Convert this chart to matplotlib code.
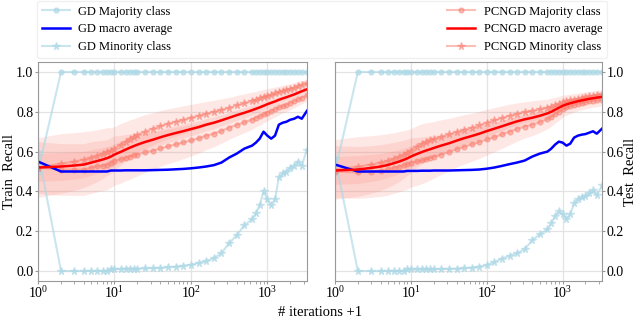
import numpy as np
import matplotlib.pyplot as plt

plt.rcParams['font.family'] = 'serif'
plt.rcParams['font.serif'] = ['Liberation Serif', 'DejaVu Serif']
plt.rcParams['mathtext.fontset'] = 'stix'

# iterations + 1
iters = [1, 2, 3, 4, 5, 6, 7, 8, 9, 10, 12, 14, 16, 18, 20, 25, 32, 40, 50, 63, 80, 100,
         126, 158, 200, 251, 316, 398, 501, 631, 708, 794, 891, 1000, 1122, 1259, 1413,
         1585, 1778, 1995, 2239, 2512, 2818, 3300]

# ---- train ----
gd_maj_train = [0.50, 1.0, 1.0, 1.0, 1.0, 1.0, 1.0, 1.0, 1.0, 1.0, 1.0, 1.0, 1.0, 1.0, 1.0,
                1.0, 1.0, 1.0, 1.0, 1.0, 1.0, 1.0, 1.0, 1.0, 1.0, 1.0, 1.0, 1.0, 1.0, 1.0,
                1.0, 1.0, 1.0, 1.0, 1.0, 1.0, 1.0, 1.0, 1.0, 1.0, 1.0, 1.0, 1.0, 1.0]
gd_min_train = [0.60, 0.0, 0.0, 0.0, 0.0, 0.0, 0.0, 0.0, 0.01, 0.01, 0.01, 0.012, 0.012,
                0.012, 0.012, 0.013, 0.015, 0.016, 0.018, 0.022, 0.026, 0.032, 0.04, 0.05,
                0.065, 0.09, 0.14, 0.18, 0.23, 0.26, 0.29, 0.33, 0.40, 0.36, 0.33, 0.36,
                0.47, 0.49, 0.50, 0.52, 0.53, 0.55, 0.53, 0.61]
gd_avg_train = [0.55, 0.50, 0.50, 0.50, 0.50, 0.50, 0.50, 0.50, 0.505, 0.505, 0.505, 0.506,
                0.506, 0.506, 0.506, 0.506, 0.507, 0.508, 0.509, 0.511, 0.513, 0.516, 0.52,
                0.525, 0.532, 0.545, 0.57, 0.59, 0.615, 0.63, 0.645, 0.665, 0.70, 0.68,
                0.665, 0.68, 0.735, 0.745, 0.75, 0.76, 0.765, 0.775, 0.765, 0.805]
pc_avg_train = [0.52, 0.525, 0.53, 0.535, 0.545, 0.553, 0.56, 0.567, 0.575, 0.585, 0.598,
                0.61, 0.62, 0.628, 0.635, 0.648, 0.66, 0.672, 0.683, 0.693, 0.703, 0.713,
                0.723, 0.735, 0.745, 0.757, 0.77, 0.783, 0.795, 0.808, 0.815, 0.822, 0.83,
                0.838, 0.845, 0.852, 0.86, 0.867, 0.873, 0.88, 0.887, 0.895, 0.903, 0.913]
pc_min_train = [0.52, 0.54, 0.55, 0.56, 0.57, 0.58, 0.59, 0.60, 0.605, 0.615, 0.635, 0.65,
                0.665, 0.675, 0.685, 0.70, 0.715, 0.728, 0.74, 0.75, 0.76, 0.77, 0.78, 0.79,
                0.80, 0.81, 0.82, 0.832, 0.843, 0.855, 0.86, 0.867, 0.873, 0.88, 0.886,
                0.892, 0.898, 0.904, 0.91, 0.915, 0.921, 0.928, 0.935, 0.943]
pc_maj_train = [0.52, 0.51, 0.51, 0.51, 0.52, 0.526, 0.53, 0.534, 0.545, 0.555, 0.561, 0.57,
                0.575, 0.581, 0.585, 0.596, 0.605, 0.616, 0.626, 0.636, 0.646, 0.656, 0.666,
                0.68, 0.69, 0.704, 0.72, 0.734, 0.747, 0.761, 0.77, 0.777, 0.787, 0.796,
                0.804, 0.812, 0.822, 0.83, 0.836, 0.845, 0.853, 0.862, 0.871, 0.883]

# ---- test ----
gd_maj_test = [0.50, 1.0, 1.0, 1.0, 1.0, 1.0, 1.0, 1.0, 1.0, 1.0, 1.0, 1.0, 1.0, 1.0, 1.0,
               1.0, 1.0, 1.0, 1.0, 1.0, 1.0, 1.0, 1.0, 1.0, 1.0, 1.0, 1.0, 1.0, 1.0, 1.0,
               1.0, 1.0, 1.0, 1.0, 1.0, 1.0, 1.0, 1.0, 1.0, 1.0, 1.0, 1.0, 1.0, 1.0]
gd_min_test = [0.57, 0.0, 0.0, 0.0, 0.0, 0.0, 0.0, 0.0, 0.008, 0.008, 0.008, 0.009, 0.009,
               0.009, 0.01, 0.01, 0.011, 0.012, 0.014, 0.017, 0.022, 0.03, 0.045, 0.062,
               0.077, 0.09, 0.11, 0.155, 0.185, 0.21, 0.24, 0.275, 0.30, 0.285, 0.26, 0.285,
               0.34, 0.36, 0.37, 0.375, 0.39, 0.405, 0.38, 0.43]
gd_avg_test = [0.535, 0.50, 0.50, 0.50, 0.50, 0.50, 0.50, 0.50, 0.503, 0.503, 0.503, 0.504,
               0.504, 0.504, 0.505, 0.505, 0.505, 0.506, 0.507, 0.508, 0.51, 0.514, 0.52,
               0.528, 0.537, 0.545, 0.555, 0.575, 0.59, 0.60, 0.615, 0.635, 0.65, 0.645,
               0.63, 0.64, 0.67, 0.68, 0.685, 0.688, 0.695, 0.702, 0.69, 0.715]
pc_avg_test = [0.505, 0.51, 0.518, 0.525, 0.533, 0.542, 0.55, 0.558, 0.566, 0.575, 0.588,
               0.598, 0.606, 0.612, 0.618, 0.63, 0.642, 0.655, 0.667, 0.678, 0.69, 0.703,
               0.715, 0.727, 0.74, 0.752, 0.762, 0.77, 0.78, 0.792, 0.80, 0.81, 0.82, 0.83,
               0.837, 0.843, 0.848, 0.853, 0.857, 0.861, 0.865, 0.868, 0.871, 0.875]
pc_min_test = [0.51, 0.525, 0.535, 0.545, 0.555, 0.565, 0.575, 0.585, 0.595, 0.605, 0.625,
               0.64, 0.65, 0.657, 0.663, 0.675, 0.687, 0.698, 0.71, 0.72, 0.732, 0.745,
               0.757, 0.768, 0.78, 0.79, 0.798, 0.805, 0.812, 0.82, 0.826, 0.832, 0.84,
               0.847, 0.852, 0.857, 0.861, 0.865, 0.869, 0.873, 0.877, 0.881, 0.885, 0.89]
pc_maj_test = [0.50, 0.495, 0.50, 0.505, 0.511, 0.519, 0.525, 0.531, 0.537, 0.545, 0.551,
               0.556, 0.562, 0.567, 0.573, 0.585, 0.597, 0.612, 0.624, 0.636, 0.648, 0.661,
               0.673, 0.686, 0.70, 0.714, 0.726, 0.735, 0.748, 0.764, 0.774, 0.788, 0.80,
               0.813, 0.822, 0.829, 0.835, 0.841, 0.845, 0.849, 0.853, 0.855, 0.857, 0.86]

# spread over runs (PCNGD), used for shaded bands
sd_min = [0.15, 0.15, 0.145, 0.14, 0.135, 0.13, 0.125, 0.12, 0.115, 0.11, 0.105, 0.10,
          0.095, 0.09, 0.088, 0.085, 0.08, 0.078, 0.075, 0.072, 0.07, 0.067, 0.064, 0.061,
          0.058, 0.055, 0.052, 0.05, 0.047, 0.044, 0.042, 0.04, 0.038, 0.036, 0.034, 0.032,
          0.03, 0.029, 0.028, 0.026, 0.025, 0.024, 0.022, 0.02]
sd_maj = [0.13, 0.13, 0.13, 0.13, 0.13, 0.128, 0.127, 0.126, 0.125, 0.124, 0.12, 0.117,
          0.114, 0.11, 0.107, 0.10, 0.095, 0.09, 0.087, 0.085, 0.082, 0.078, 0.074, 0.07,
          0.066, 0.062, 0.058, 0.055, 0.052, 0.049, 0.047, 0.045, 0.043, 0.041, 0.039,
          0.038, 0.037, 0.036, 0.035, 0.034, 0.033, 0.032, 0.031, 0.03]
sd_avg = [0.07, 0.07, 0.068, 0.066, 0.064, 0.062, 0.06, 0.058, 0.056, 0.054, 0.052, 0.05,
          0.048, 0.046, 0.045, 0.043, 0.041, 0.04, 0.038, 0.037, 0.035, 0.034, 0.032, 0.031,
          0.03, 0.028, 0.027, 0.026, 0.025, 0.024, 0.023, 0.022, 0.021, 0.02, 0.02, 0.019,
          0.018, 0.018, 0.017, 0.017, 0.016, 0.016, 0.015, 0.015]

x = np.array(iters)


def draw(ax, gd_maj, gd_min, gd_avg, pc_maj, pc_min, pc_avg):
    h = {}
    for m, s in [(pc_min, sd_min), (pc_maj, sd_maj), (pc_avg, sd_avg)]:
        m = np.array(m)
        s = np.array(s)
        ax.fill_between(x, m - s, m + s, color='salmon', alpha=0.18, lw=0)
    h['gd_maj'], = ax.plot(x, gd_maj, color='lightblue', marker='o', ms=3.5, lw=1.5, alpha=0.65)
    h['gd_min'], = ax.plot(x, gd_min, color='lightblue', marker='*', ms=5.5, lw=1.5, alpha=0.65)
    h['pc_maj'], = ax.plot(x, pc_maj, color='salmon', marker='o', ms=3.5, lw=1.5, alpha=0.5)
    h['pc_min'], = ax.plot(x, pc_min, color='salmon', marker='*', ms=5.5, lw=1.5, alpha=0.5)
    h['gd_avg'], = ax.plot(x, gd_avg, color='blue', lw=1.8)
    h['pc_avg'], = ax.plot(x, pc_avg, color='red', lw=1.8)
    ax.set_xscale('log')
    ax.set_xlim(1, 3300)
    ax.set_ylim(-0.05, 1.05)
    ax.set_yticks([0.0, 0.2, 0.4, 0.6, 0.8, 1.0])
    ax.grid(True, color='#e3e3e3', lw=0.9)
    ax.set_axisbelow(True)
    for sp in ax.spines.values():
        sp.set_color('#999999')
    ax.tick_params(labelsize=10, color='#999999', pad=1, length=2.5)
    ax.tick_params(axis='x', pad=0.5)
    ax.tick_params(which='minor', color='#999999', length=1.8)
    return h


fig = plt.figure(figsize=(6.4, 3.19), dpi=100)
ax1 = fig.add_axes([38 / 640, 38 / 319, 269 / 640, 219 / 319])
ax2 = fig.add_axes([335 / 640, 38 / 319, 267 / 640, 219 / 319])

h = draw(ax1, gd_maj_train, gd_min_train, gd_avg_train, pc_maj_train, pc_min_train, pc_avg_train)
draw(ax2, gd_maj_test, gd_min_test, gd_avg_test, pc_maj_test, pc_min_test, pc_avg_test)

ax1.set_ylabel('Train  Recall', fontsize=10.5)
ax1.yaxis.set_label_coords(-0.081, 0.5)
ax2.yaxis.tick_right()
ax2.yaxis.set_label_position('right')
ax2.set_ylabel('Test  Recall', fontsize=10.5)
ax2.yaxis.set_label_coords(1.082, 0.5)
fig.text(0.5, 0.0, '# iterations +1', ha='center', va='bottom', fontsize=10.5)

handles = [h['gd_maj'], h['gd_avg'], h['gd_min'], h['pc_maj'], h['pc_avg'], h['pc_min']]
labels = ['GD Majority class', 'GD macro average', 'GD Minority class',
          'PCNGD Majority class', 'PCNGD macro average', 'PCNGD Minority class']
leg = fig.legend(handles, labels, ncol=2, mode='expand', loc='lower left',
                 bbox_to_anchor=(37 / 640, 261 / 319, 570 / 640, 57 / 319),
                 fontsize=9, frameon=True, handlelength=2.2, labelspacing=0.45,
                 borderaxespad=0, handletextpad=0.7)
leg.get_frame().set_edgecolor('#f0f0f0')
leg.get_frame().set_alpha(1)

fig.savefig('out.png', dpi=100)
